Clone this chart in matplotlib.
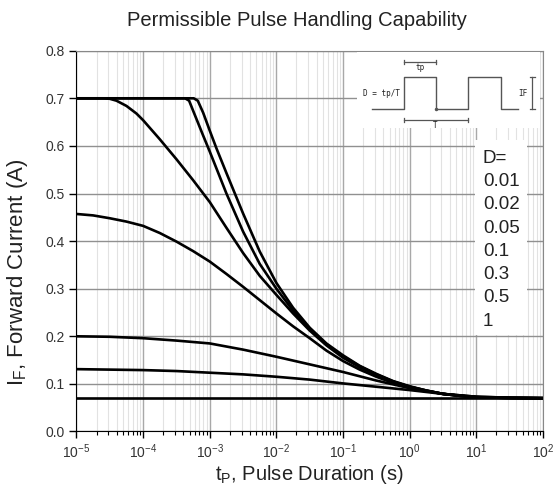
import numpy as np
import matplotlib
matplotlib.use("Agg")
import matplotlib.pyplot as plt
from matplotlib.patches import Rectangle
from matplotlib.ticker import LogLocator, FixedLocator

plt.rcParams['font.family'] = ['Liberation Sans', 'DejaVu Sans']
plt.rcParams['mathtext.default'] = 'regular'

# duty cycles, top curve first
duty_labels = ["0.01", "0.02", "0.05", "0.1", "0.3", "0.5", "1"]

# log10 of pulse duration (s) and forward current (A)
logt_d001 = [-5, -3.5, -3.24, -3.18, -3.1, -3.0, -2.9, -2.75, -2.5, -2.25, -2.0, -1.75, -1.5, -1.25, -1.0,
             -0.75, -0.5, -0.25, 0.0, 0.25, 0.5, 0.75, 1.0, 1.5, 2.0]
if_d001 = [0.70, 0.70, 0.70, 0.695, 0.670, 0.632, 0.595, 0.543, 0.458, 0.378, 0.312, 0.260, 0.218, 0.185, 0.160,
           0.138, 0.121, 0.106, 0.095, 0.086, 0.079, 0.075, 0.072, 0.0705, 0.070]

logt_d002 = [-5, -3.5, -3.37, -3.31, -3.25, -3.1, -3.0, -2.75, -2.5, -2.25, -2.0, -1.75, -1.5, -1.25, -1.0,
             -0.75, -0.5, -0.25, 0.0, 0.25, 0.5, 0.75, 1.0, 1.5, 2.0]
if_d002 = [0.70, 0.70, 0.70, 0.695, 0.674, 0.622, 0.588, 0.500, 0.420, 0.352, 0.300, 0.254, 0.215, 0.183, 0.158,
           0.137, 0.120, 0.105, 0.094, 0.086, 0.079, 0.075, 0.072, 0.0705, 0.070]

logt_d005 = [-5, -4.6, -4.5, -4.4, -4.25, -4.1, -4.0, -3.75, -3.5, -3.25, -3.0, -2.75, -2.5, -2.25, -2.0,
             -1.75, -1.5, -1.25, -1.0, -0.75, -0.5, -0.25, 0.0, 0.25, 0.5, 0.75, 1.0, 1.5, 2.0]
if_d005 = [0.70, 0.70, 0.699, 0.695, 0.684, 0.668, 0.654, 0.614, 0.572, 0.528, 0.482, 0.428, 0.375, 0.327, 0.287,
           0.248, 0.212, 0.181, 0.155, 0.135, 0.119, 0.105, 0.094, 0.086, 0.079, 0.075, 0.072, 0.0705, 0.070]

logt_d01 = [-5, -4.75, -4.5, -4.25, -4.0, -3.75, -3.5, -3.25, -3.0, -2.75, -2.5, -2.25, -2.0, -1.75, -1.5,
            -1.25, -1.0, -0.75, -0.5, -0.25, 0.0, 0.25, 0.5, 0.75, 1.0, 1.5, 2.0]
if_d01 = [0.457, 0.454, 0.448, 0.441, 0.432, 0.417, 0.399, 0.379, 0.357, 0.331, 0.304, 0.276, 0.248, 0.221, 0.196,
          0.170, 0.148, 0.130, 0.115, 0.102, 0.092, 0.085, 0.079, 0.075, 0.072, 0.0705, 0.070]

logt_d03 = [-5, -4.5, -4.0, -3.5, -3.0, -2.5, -2.0, -1.5, -1.0, -0.5, 0.0, 0.5, 1.0, 1.5, 2.0]
if_d03 = [0.200, 0.199, 0.196, 0.191, 0.185, 0.172, 0.157, 0.141, 0.125, 0.107, 0.091, 0.079, 0.073, 0.071, 0.070]

logt_d05 = [-5, -4.5, -4.0, -3.5, -3.0, -2.5, -2.0, -1.5, -1.0, -0.5, 0.0, 0.5, 1.0, 1.5, 2.0]
if_d05 = [0.131, 0.130, 0.129, 0.127, 0.1235, 0.120, 0.115, 0.109, 0.101, 0.094, 0.087, 0.079, 0.073, 0.071, 0.070]

logt_d1 = [-5, 2.0]
if_d1 = [0.07, 0.07]

curves = [(logt_d001, if_d001), (logt_d002, if_d002), (logt_d005, if_d005),
          (logt_d01, if_d01), (logt_d03, if_d03), (logt_d05, if_d05), (logt_d1, if_d1)]

fig = plt.figure(figsize=(5.53, 4.90), dpi=100)
ax = fig.add_axes([0.1383, 0.1194, 0.8436, 0.7771])

ax.set_xscale('log')
ax.set_xlim(1e-5, 1e2)
ax.set_ylim(0, 0.8)
ax.yaxis.set_major_locator(FixedLocator(np.arange(0, 0.81, 0.1)))
ax.yaxis.set_major_formatter(plt.FuncFormatter(lambda v, p: f"{v:.1f}"))
ax.xaxis.set_major_locator(LogLocator(base=10, numticks=10))
ax.xaxis.set_minor_locator(LogLocator(base=10, subs=np.arange(2, 10), numticks=100))

ax.set_axisbelow(True)
ax.grid(which='major', axis='x', color='#a8a8a8', lw=1.0)
ax.grid(which='minor', axis='x', color='#e2e2e2', lw=0.8)
ax.grid(which='major', axis='y', color='#909090', lw=1.0)

for t, i in curves:
    ax.plot(10 ** np.array(t), i, color='black', lw=1.9, zorder=3, solid_joinstyle='round')

ax.tick_params(which='major', direction='out', length=5, width=1, labelsize=10, labelcolor='#333333')
ax.tick_params(which='minor', direction='out', length=3, width=0.8)
ax.tick_params(axis='x', pad=3)
for s in ['top', 'right']:
    ax.spines[s].set_color('#888888')

fig.text(297 / 553, 1 - 21 / 490, "Permissible Pulse Handling Capability", fontsize=14.5,
         ha='center', va='center', color='#222222')
ax.set_xlabel(r"t$_\mathregular{P}$, Pulse Duration (s)", fontsize=14.5, labelpad=1, color='#222222')
# y label placed by its centre, in figure pixels
fig.text(18 / 553, 1 - 272 / 490, r"I$_\mathregular{F}$, Forward Current (A)", fontsize=16,
         rotation=90, ha='center', va='center', color='#222222')

# white box behind the duty cycle list
ax.add_patch(Rectangle((0.854, 0.2534), 0.1115, 0.512, transform=ax.transAxes,
                       facecolor='white', edgecolor='none', zorder=1))
ax.text(0.871, 0.718, "D=", transform=ax.transAxes, fontsize=13.5, va='center', color='#222222', zorder=4)
for k, lab in enumerate(duty_labels):
    ax.text(0.871, 0.718 - 0.0612 * (k + 1), lab, transform=ax.transAxes,
            fontsize=13.5, va='center', color='#222222', zorder=4)

# pulse waveform sketch (pixel-like coordinates)
ins = fig.add_axes([357 / 553, 1 - 128 / 490, 183 / 553, 76 / 490])
ins.set_xlim(357, 540)
ins.set_ylim(128, 52)
ins.set_facecolor('white')
for s in ins.spines.values():
    s.set_visible(False)
ins.set_xticks([])
ins.set_yticks([])
wc = '#555555'
lo, hi = 109.3, 77.3
ins.plot([371.7, 404, 404, 436, 436, 468.3, 468.3, 500.7, 500.7, 518.3],
         [lo, lo, hi, hi, lo, lo, hi, hi, lo, lo], color=wc, lw=1.0)
ins.plot([436], [lo], 'o', color=wc, ms=1.5)
# tp bracket
ins.plot([404, 436], [61.7, 61.7], color=wc, lw=0.9)
ins.plot([404, 404], [59.5, 64], color=wc, lw=0.9)
ins.plot([436, 436], [59.5, 64], color=wc, lw=0.9)
ins.text(420, 67.5, "tp", fontsize=5.5, family='DejaVu Sans Mono', ha='center', va='center', color='#222222')
# T bracket
ins.plot([404, 468.3], [120, 120], color=wc, lw=0.9)
ins.plot([404, 404], [117.8, 122.2], color=wc, lw=0.9)
ins.plot([468.3, 468.3], [117.8, 122.2], color=wc, lw=0.9)
ins.text(435, 125.5, "T", fontsize=5.5, family='DejaVu Sans Mono', ha='center', va='center', color='#222222')
# IF bracket
ins.plot([532.3, 532.3], [hi, lo], color=wc, lw=0.9)
ins.plot([530, 534.6], [hi, hi], color=wc, lw=0.9)
ins.plot([530, 534.6], [lo, lo], color=wc, lw=0.9)
ins.text(523.3, 93.3, "IF", fontsize=5.5, family='DejaVu Sans Mono', ha='center', va='center', color='#222222')
ins.text(381.7, 93.3, "D = tp/T", fontsize=5.5, family='DejaVu Sans Mono', ha='center', va='center', color='#222222')

fig.savefig("out.png", dpi=100)
plt.close()
